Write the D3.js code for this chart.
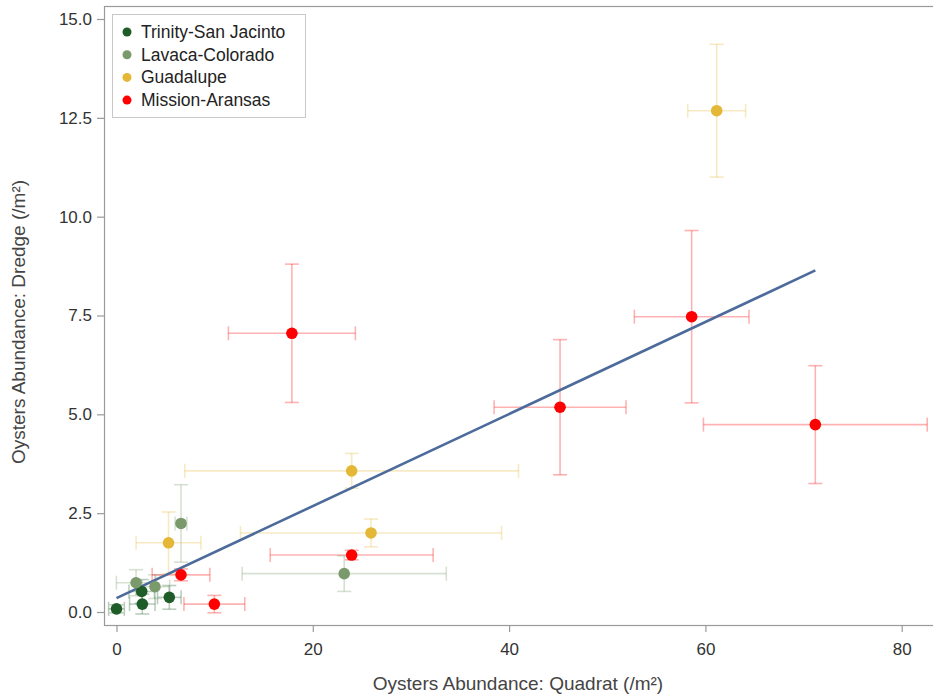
<!DOCTYPE html>
<html>
<head>
<meta charset="utf-8">
<title>Oysters Abundance</title>
<script src="https://d3js.org/d3.v7.min.js"></script>
<style>
    body { margin: 0; background: #fff; font-family: "Liberation Sans", Arial, sans-serif; }
    .tick text { font-size: 17px; fill: #333; }
    .axis-title { font-size: 19px; fill: #444; }
    .legend text { font-size: 17.5px; fill: #222; }
</style>
</head>
<body>
<script>
// series names and colours
var seriesNames = ["Trinity-San Jacinto", "Lavaca-Colorado", "Guadalupe", "Mission-Aransas"];
var seriesColors = ["#1f5d28", "#7b9a6c", "#e4b737", "#ff0000"];

// values: quadrat (x), dredge (y) and their error half-widths
var trinityX = [0, 2.57, 2.63, 5.38];
var trinityY = [0.08, 0.52, 0.2, 0.37];
var trinityXErr = [0.8, 1.3, 1.3, 1.2];
var trinityYErr = [0.1, 0.3, 0.25, 0.3];

var lavacaX = [1.99, 3.92, 6.57, 23.2];
var lavacaY = [0.74, 0.64, 2.24, 0.97];
var lavacaXErr = [2.0, 1.5, 0.6, 10.4];
var lavacaYErr = [0.33, 0.3, 0.98, 0.45];

var guadalupeX = [5.3, 23.96, 25.93, 61.15];
var guadalupeY = [1.75, 3.57, 2.0, 12.68];
var guadalupeXErr = [3.3, 17.0, 13.3, 2.95];
var guadalupeYErr = [0.78, 0.44, 0.35, 1.68];

var missionX = [6.57, 9.97, 17.87, 23.96, 45.19, 58.6, 71.2];
var missionY = [0.94, 0.2, 7.05, 1.44, 5.18, 7.47, 4.74];
var missionXErr = [2.94, 3.1, 6.47, 8.3, 6.72, 5.84, 11.4];
var missionYErr = [0.15, 0.22, 1.75, 0.12, 1.71, 2.18, 1.49];

// regression line end points
var fitX = [0, 71.2];
var fitY = [0.35, 8.64];

var xTicks = [0, 20, 40, 60, 80];
var yTicks = [0, 2.5, 5, 7.5, 10, 12.5, 15];

var allX = [trinityX, lavacaX, guadalupeX, missionX];
var allY = [trinityY, lavacaY, guadalupeY, missionY];
var allXErr = [trinityXErr, lavacaXErr, guadalupeXErr, missionXErr];
var allYErr = [trinityYErr, lavacaYErr, guadalupeYErr, missionYErr];

var width = 933, height = 696;
var frame = { left: 104, top: 6, right: 940, bottom: 625 };

var x = d3.scaleLinear().domain([0, 80]).range([116.5, 901.7]);
var y = d3.scaleLinear().domain([0, 15]).range([612, 19]);

var svg = d3.select("body").append("svg")
    .attr("width", width)
    .attr("height", height);

// plot frame
svg.append("rect")
    .attr("x", frame.left + 0.5)
    .attr("y", frame.top + 0.5)
    .attr("width", frame.right - frame.left)
    .attr("height", frame.bottom - frame.top)
    .attr("fill", "none")
    .attr("stroke", "#9a9a9a")
    .attr("stroke-width", 1.2);

var xAxis = d3.axisBottom(x).tickValues(xTicks).tickSize(7).tickPadding(11)
    .tickFormat(d3.format("d"));
var yAxis = d3.axisLeft(y).tickValues(yTicks).tickSize(7).tickPadding(5)
    .tickFormat(d3.format(".1f"));

var gx = svg.append("g")
    .attr("transform", "translate(0," + frame.bottom + ")")
    .call(xAxis);
var gy = svg.append("g")
    .attr("transform", "translate(" + frame.left + ",0)")
    .call(yAxis);
[gx, gy].forEach(function (g) {
    g.select(".domain").remove();
    g.selectAll(".tick line").attr("stroke", "#9a9a9a").attr("stroke-width", 1.2);
    g.selectAll(".tick text").attr("font-family", "Liberation Sans, Arial, sans-serif");
});

// axis titles
svg.append("text")
    .attr("class", "axis-title")
    .attr("x", 518)
    .attr("y", 690)
    .attr("text-anchor", "middle")
    .text("Oysters Abundance: Quadrat (/m²)");

svg.append("text")
    .attr("class", "axis-title")
    .attr("transform", "translate(25,322) rotate(-90)")
    .attr("text-anchor", "middle")
    .text("Oysters Abundance: Dredge (/m²)");

var cap = 7;

// error bars
seriesNames.forEach(function (name, s) {
    var g = svg.append("g")
        .attr("stroke", seriesColors[s])
        .attr("stroke-opacity", 0.3)
        .attr("stroke-width", 1.6)
        .attr("fill", "none");
    allX[s].forEach(function (xv, i) {
        var yv = allY[s][i], xe = allXErr[s][i], ye = allYErr[s][i];
        var x0 = x(xv - xe), x1 = x(xv + xe), y0 = y(yv - ye), y1 = y(yv + ye);
        var cx = x(xv), cy = y(yv);
        g.append("line").attr("x1", x0).attr("x2", x1).attr("y1", cy).attr("y2", cy);
        g.append("line").attr("x1", x0).attr("x2", x0).attr("y1", cy - cap).attr("y2", cy + cap);
        g.append("line").attr("x1", x1).attr("x2", x1).attr("y1", cy - cap).attr("y2", cy + cap);
        g.append("line").attr("x1", cx).attr("x2", cx).attr("y1", y0).attr("y2", y1);
        g.append("line").attr("x1", cx - cap).attr("x2", cx + cap).attr("y1", y0).attr("y2", y0);
        g.append("line").attr("x1", cx - cap).attr("x2", cx + cap).attr("y1", y1).attr("y2", y1);
    });
});

// regression line
var line = d3.line()
    .x(function (d) { return x(d[0]); })
    .y(function (d) { return y(d[1]); });
svg.append("path")
    .datum(d3.zip(fitX, fitY))
    .attr("fill", "none")
    .attr("stroke", "#4c6b9b")
    .attr("stroke-width", 2.6)
    .attr("d", line);

// points
seriesNames.forEach(function (name, s) {
    svg.append("g").selectAll("circle")
        .data(d3.zip(allX[s], allY[s]))
        .enter().append("circle")
        .attr("cx", function (d) { return x(d[0]); })
        .attr("cy", function (d) { return y(d[1]); })
        .attr("r", 5.8)
        .attr("fill", seriesColors[s]);
});

// legend
var legend = svg.append("g").attr("class", "legend");
legend.append("rect")
    .attr("x", 112.5)
    .attr("y", 14.5)
    .attr("width", 193)
    .attr("height", 103)
    .attr("fill", "#fff")
    .attr("stroke", "#c8c8c8");
seriesNames.forEach(function (name, s) {
    var ly = 32 + s * 22.7;
    legend.append("circle")
        .attr("cx", 127)
        .attr("cy", ly)
        .attr("r", 4.5)
        .attr("fill", seriesColors[s]);
    legend.append("text")
        .attr("x", 141)
        .attr("y", ly + 6)
        .text(name);
});
</script>
</body>
</html>
